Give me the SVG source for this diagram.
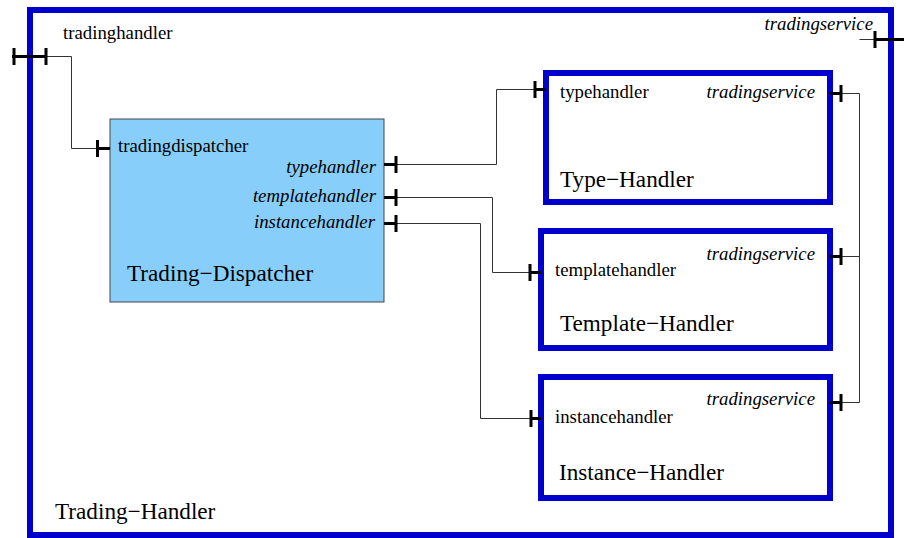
<svg xmlns="http://www.w3.org/2000/svg" width="904" height="538" viewBox="0 0 904 538">
<style>
.box{fill:#fff;stroke:#0000cc;stroke-width:6}
.disp{fill:#87cefa;stroke:#444;stroke-width:1}
.wire{fill:none;stroke:#333;stroke-width:1}
.port{fill:none;stroke:#000;stroke-width:3}
.lbl{font-family:"Liberation Serif",serif;font-size:18.8px;fill:#000}
.it{font-style:italic}
.ttl{font-family:"Liberation Serif",serif;font-size:23.2px;fill:#000}
.end{text-anchor:end}
</style>
<rect width="904" height="538" fill="#fff"/>
<g id="trading-handler">
<rect class="box" x="30" y="10" width="861" height="525"/>
<text class="lbl" x="63" y="39">tradinghandler</text>
<text class="lbl it end" x="873" y="30">tradingservice</text>
<text class="ttl" x="55" y="519">Trading−Handler</text>
</g>
<g id="trading-dispatcher">
<rect class="disp" x="110" y="119" width="274" height="183"/>
<text class="lbl" x="118" y="152">tradingdispatcher</text>
<text class="lbl it end" x="376" y="173">typehandler</text>
<text class="lbl it end" x="376" y="202">templatehandler</text>
<text class="lbl it end" x="375" y="228">instancehandler</text>
<text class="ttl" x="127" y="281">Trading−Dispatcher</text>
</g>
<g id="type-handler">
<rect class="box" x="546" y="73" width="284" height="129"/>
<text class="lbl" x="560" y="98">typehandler</text>
<text class="lbl it end" x="815" y="98">tradingservice</text>
<text class="ttl" x="560" y="187">Type−Handler</text>
</g>
<g id="template-handler">
<rect class="box" x="541" y="231" width="289" height="117"/>
<text class="lbl it end" x="815" y="260">tradingservice</text>
<text class="lbl" x="555" y="276">templatehandler</text>
<text class="ttl" x="560" y="331">Template−Handler</text>
</g>
<g id="instance-handler">
<rect class="box" x="541" y="377" width="289" height="121"/>
<text class="lbl it end" x="815" y="405">tradingservice</text>
<text class="lbl" x="555" y="423">instancehandler</text>
<text class="ttl" x="559" y="480">Instance−Handler</text>
</g>
<g id="connectors">
<path class="wire" d="M46 56.5H71.5V148.5H97"/>
<path class="wire" d="M396 164.5H496.5V89.5H535"/>
<path class="wire" d="M396 197.5H492.5V272.5H530"/>
<path class="wire" d="M396 223.5H480.5V418.5H531"/>
<path class="wire" d="M841 93.5H859.5V402.5H841M859.5 256.5H841M859.5 39.5H875"/>
<path class="port" d="M12 56.5H46M14 48V65M46 48V65"/>
<path class="port" d="M97 148.5H110M97.5 140V157"/>
<path class="port" d="M384 164.5H396M396 156V173"/>
<path class="port" d="M384 197.5H396M396 189V206"/>
<path class="port" d="M384 223.5H396M396 215V232"/>
<path class="port" d="M535 89.5H546M535 81V98"/>
<path class="port" d="M530 272.5H541M530 264V281"/>
<path class="port" d="M531 418.5H541M531 410V427"/>
<path class="port" d="M830 93.5H841M841 85V102"/>
<path class="port" d="M830 256.5H841M841 248V265"/>
<path class="port" d="M830 402.5H841M841 394V411"/>
<path class="port" d="M875 39.5H904M875 31V48"/>
</g>
</svg>
